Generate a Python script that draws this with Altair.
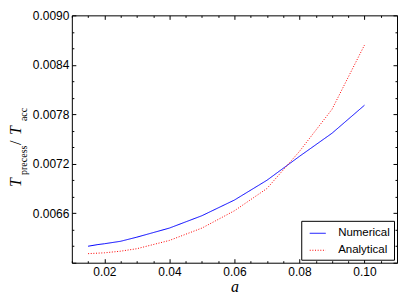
import altair as alt
import pandas as pd

# ---- data ----
a_num = [0.015, 0.018, 0.02, 0.025, 0.03, 0.04, 0.05, 0.06, 0.07, 0.08, 0.09, 0.10]
t_num = [0.00620, 0.00622, 0.00623, 0.00626, 0.00631, 0.00642, 0.00657, 0.00676,
         0.00700, 0.00729, 0.00757, 0.00791]
a_ana = [0.015, 0.02, 0.025, 0.03, 0.04, 0.05, 0.06, 0.07, 0.08, 0.09, 0.10]
t_ana = [0.00611, 0.00612, 0.00614, 0.00617, 0.00627, 0.00642, 0.00663, 0.00690,
         0.00735, 0.00786, 0.00864]
series = ["Numerical", "Analytical"]

x_major = [0.02, 0.04, 0.06, 0.08, 0.10]
x_minor = [0.01, 0.015, 0.025, 0.03, 0.035, 0.045, 0.05, 0.055, 0.065, 0.07, 0.075,
           0.085, 0.09, 0.095, 0.105, 0.11]
y_labels = [0.0066, 0.0072, 0.0078, 0.0084, 0.0090]
y_major = [0.0060, 0.0066, 0.0072, 0.0078, 0.0084, 0.0090]
y_minor = [0.0062, 0.0064, 0.0068, 0.0070, 0.0074, 0.0076, 0.0080, 0.0082,
           0.0086, 0.0088]

W, H = 326, 248
XDOM = [0.01, 0.11]
YDOM = [0.0060, 0.0090]

df = pd.concat([
    pd.DataFrame({"a": a_num, "t": t_num, "series": series[0]}),
    pd.DataFrame({"a": a_ana, "t": t_ana, "series": series[1]}),
])

xs = alt.Scale(domain=XDOM, nice=False, zero=False)
ys = alt.Scale(domain=YDOM, nice=False, zero=False)

LABEL_FONT = "Liberation Sans"

main_x_axis = alt.Axis(orient="bottom", values=x_major, format=".2f", ticks=False,
                       domain=False, grid=False, labelPadding=4, labelFont=LABEL_FONT,
                       labelFontSize=12, labelColor="black", title="a",
                       titleFont="Liberation Serif", titleFontStyle="italic",
                       titleFontWeight="normal", titleFontSize=16, titleColor="black",
                       titlePadding=1, labelFlush=False)
main_y_axis = alt.Axis(orient="left", values=y_labels, format=".4f", ticks=False,
                       domain=False, grid=False, labelPadding=3, labelFont=LABEL_FONT,
                       labelFontSize=12, labelColor="black", title=None, labelFlush=False)

lines = alt.Chart(df).mark_line(strokeWidth=1).encode(
    x=alt.X("a:Q", scale=xs, axis=main_x_axis),
    y=alt.Y("t:Q", scale=ys, axis=main_y_axis),
    color=alt.Color("series:N",
                    scale=alt.Scale(domain=series, range=["#0000ff", "#ff0000"]),
                    sort=series,
                    legend=alt.Legend(title=None, orient="none", legendX=230, legendY=206,
                                      fillColor="white", strokeColor="black",
                                      padding=4, symbolType="stroke", symbolSize=256,
                                      symbolStrokeWidth=1, symbolOffset=4,
                                      labelFont=LABEL_FONT, labelFontSize=11.5,
                                      labelColor="black", labelOffset=12, rowPadding=3,
                                      cornerRadius=0)),
    strokeDash=alt.StrokeDash("series:N",
                              scale=alt.Scale(domain=series, range=[[1, 0], [1, 1.65]]),
                              sort=series, legend=alt.Legend(title=None, orient="none",
                                                             legendX=230, legendY=206)),
    detail="series:N",
)


def tick_layer(xorient, yorient, xvals, yvals, size):
    xa = alt.Axis(orient=xorient, offset=-H, values=xvals, labels=False, domain=False,
                  grid=False, tickSize=size, tickColor="black", tickWidth=1, title=None)
    ya = alt.Axis(orient=yorient, offset=-W, values=yvals, labels=False, domain=False,
                  grid=False, tickSize=size, tickColor="black", tickWidth=1, title=None)
    return alt.Chart(df).mark_point(opacity=0).encode(
        x=alt.X("a:Q", scale=xs, axis=xa),
        y=alt.Y("t:Q", scale=ys, axis=ya),
    )


# inward ticks on all four sides
t1 = tick_layer("top", "right", x_major, y_major, 4)      # bottom + left edges
t2 = tick_layer("top", "right", x_minor, y_minor, 2)
t3 = tick_layer("bottom", "left", x_major, y_major, 4)    # top + right edges
t4 = tick_layer("bottom", "left", x_minor, y_minor, 2)

# y-axis title  T_precess / T_acc  (pieces, rotated)
one = alt.Data(values=[{"k": 0}])


def piece(txt, x, y, size, style):
    return alt.Chart(one).mark_text(
        text=txt, angle=270, align="left", baseline="alphabetic",
        font="Liberation Serif", fontSize=size, fontStyle=style, color="black",
    ).encode(x=alt.value(x), y=alt.value(y))


title_parts = [
    piece("T", -51, 172, 16, "italic"),
    piece("precess", -45, 160, 10, "normal"),
    piece("/", -51, 130, 16, "normal"),
    piece("T", -51, 120, 16, "italic"),
    piece("acc", -45, 106, 10, "normal"),
]

chart = alt.layer(t1, t2, t3, t4, lines, *title_parts).resolve_axis(
    x="independent", y="independent"
).properties(
    width=W, height=H,
    autosize=alt.AutoSizeParams(type="none"),
    padding={"left": 64, "top": 7, "right": 2, "bottom": 34},
).configure_view(
    stroke="black", strokeWidth=1
).configure_axis(grid=False)

chart.save("out.html", embed_options={"renderer": "svg", "actions": False})
